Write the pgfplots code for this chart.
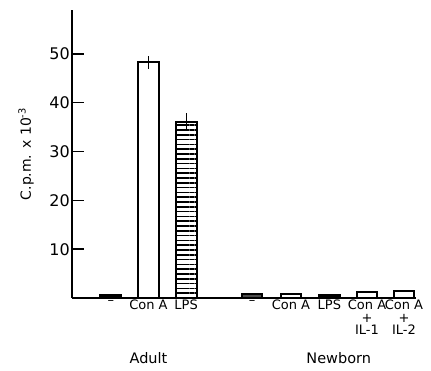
\documentclass[border=0pt]{standalone}
\usepackage{fontspec}
\setmainfont{DejaVu Sans}
\usepackage{pgfplots}
\pgfplotsset{compat=1.18}
\usetikzlibrary{patterns.meta}
\begin{document}
\begin{tikzpicture}
\begin{axis}[
  scale only axis, width=344pt, height=288pt,
  xmin=-1.03, xmax=8.1, ymin=0, ymax=59,
  axis x line*=bottom, axis y line*=left,
  axis line style={line width=1.8pt, -},
  tick align=inside,
  major tick length=12pt,
  ytick={10,20,30,40,50},
  ytick style={line width=1.5pt, black},
  yticklabel style={font=\fontsize{16}{16}\selectfont, /pgf/number format/assume math mode=true, inner sep=2pt},
  xtick={0,1,2,3.75,4.78,5.8,6.8,7.78},
  xticklabels={–, Con A, LPS, –, Con A, LPS, {Con A\\+\\IL-1}, {Con A\\+\\IL-2}},
  xticklabel style={font=\fontsize{13}{12.5}\selectfont, align=center, anchor=north, inner sep=2pt},
  xtick style={draw=none},
  clip=false,
]
\coordinate (O) at (rel axis cs:0,0);
% adult
\addplot[ybar, bar width=0.56, draw=black, line width=2pt, fill=black] coordinates {(0,0.7)};
\addplot[ybar, bar width=0.56, draw=black, line width=2.2pt, fill=white,
  error bars/.cd, y dir=both, y explicit, error bar style={line width=1.3pt}, error mark=none]
  coordinates {(1,48.3) +- (0,1.3)};
\addplot[ybar, bar width=0.56, draw=black, line width=2.2pt, fill=white,
  postaction={pattern={Lines[distance=4.8pt, angle=0, line width=1.7pt]}, pattern color=black},
  error bars/.cd, y dir=both, y explicit, error bar style={line width=1.3pt}, error mark=none]
  coordinates {(2,36.1) +- (0,1.9)};
% newborn
\addplot[ybar, bar width=0.54, draw=black, line width=2pt, fill=black!70] coordinates {(3.75,0.9)};
\addplot[ybar, bar width=0.54, draw=black, line width=2pt, fill=white] coordinates {(4.78,0.8)};
\addplot[ybar, bar width=0.54, draw=black, line width=2pt, fill=black] coordinates {(5.8,0.7)};
\addplot[ybar, bar width=0.54, draw=black, line width=2pt, fill=white] coordinates {(6.8,1.2)};
\addplot[ybar, bar width=0.54, draw=black, line width=2pt, fill=white] coordinates {(7.78,1.5)};
\node[rotate=90, font=\fontsize{14}{14}\selectfont] at ([xshift=-46pt]rel axis cs:0,0.5) {C.p.m. x 10\textsuperscript{-3}};
\node[font=\fontsize{14.5}{14.5}\selectfont] at ([yshift=-60pt]axis cs:1,0) {Adult};
\node[font=\fontsize{14.5}{14.5}\selectfont] at ([yshift=-60pt]axis cs:6.05,0) {Newborn};
\end{axis}
\path (O) ++(-72pt,-72pt) rectangle ++(431pt,370pt);
\end{tikzpicture}
\end{document}
